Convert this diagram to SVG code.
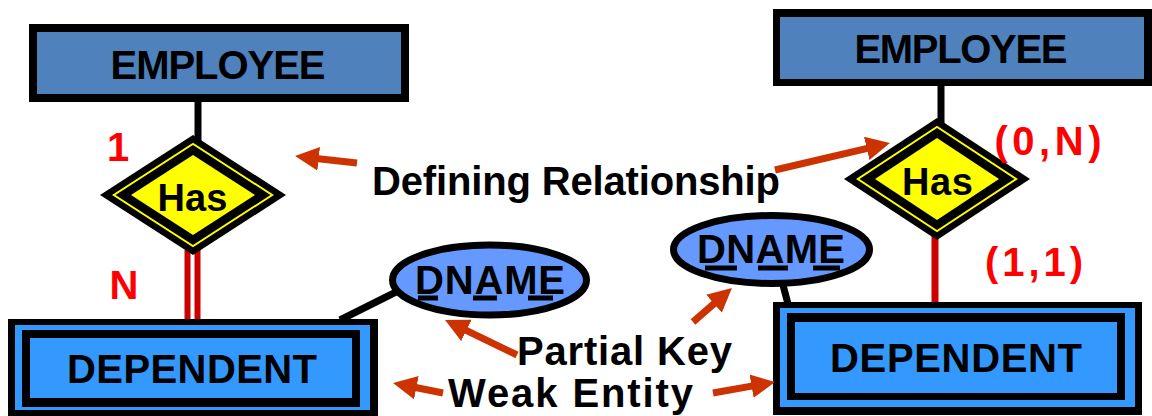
<svg xmlns="http://www.w3.org/2000/svg" width="1152" height="416" viewBox="0 0 1152 416">
<defs>
<style>
text{font-family:"Liberation Sans",Arial,sans-serif;font-weight:bold;text-anchor:middle}
.lbl{font-size:40px;fill:#000}
.has{font-size:38px;fill:#000}
.red{font-size:40px;fill:#ff0000}
.blk{fill:#000}
.emp{fill:#4f81bd}
.dep{fill:#3399ff}
.yel{fill:#ffff00}
.attr{fill:#6699ff;stroke:#000;stroke-width:7}
.conn{stroke:#000;stroke-width:7;fill:none}
.rel{stroke:#cc0000;fill:none}
.arr{stroke:#cc3300;stroke-width:7;fill:none;marker-end:url(#ah)}
.ul{stroke:#000;stroke-width:5}
</style>
<marker id="ah" viewBox="0 0 10 10" refX="3" refY="5" markerWidth="3.4" markerHeight="3.4" orient="auto" markerUnits="strokeWidth">
<path d="M0,0 L10,5 L0,10 z" fill="#cc3300"/>
</marker>
</defs>
<rect width="1152" height="416" fill="#fff"/>
<g id="connectors">
<line class="conn" x1="198" y1="100" x2="198" y2="142"/>
<line class="conn" x1="941" y1="84" x2="941" y2="124"/>
<line class="rel" stroke-width="6" x1="187.5" y1="250" x2="187.5" y2="322"/>
<line class="rel" stroke-width="6" x1="197.5" y1="250" x2="197.5" y2="322"/>
<line class="rel" stroke-width="7" x1="935" y1="236" x2="935" y2="306"/>
<line class="conn" x1="340" y1="320" x2="396" y2="292"/>
<line class="conn" x1="783" y1="285" x2="788" y2="304"/>
</g>
<g id="employee-left">
<rect class="blk" x="29" y="24" width="380" height="78"/>
<rect class="emp" x="37" y="32" width="364" height="62"/>
<text class="lbl" x="218" y="79" textLength="215">EMPLOYEE</text>
</g>
<g id="employee-right">
<rect class="blk" x="773" y="9" width="379" height="77"/>
<rect class="emp" x="780" y="17" width="364" height="62"/>
<text class="lbl" x="961" y="63" textLength="213">EMPLOYEE</text>
</g>
<g id="has-left">
<polygon class="blk" points="193,135 286,195 193,255 100,195"/>
<polygon class="yel" points="193,142.7 274,195 193,247.3 112,195"/>
<polygon class="blk" points="193,145 270.5,195 193,245 115.5,195"/>
<polygon class="yel" points="193,155 255,195 193,235 131,195"/>
<text class="has" x="192.5" y="211" textLength="70">Has</text>
</g>
<g id="has-right">
<polygon class="blk" points="937,118 1030,179 937,240 844,179"/>
<polygon class="yel" points="937,125.7 1018,179 937,232.3 856,179"/>
<polygon class="blk" points="937,128 1014.5,179 937,230 859.5,179"/>
<polygon class="yel" points="937,138 999,179 937,220 875,179"/>
<text class="has" x="937.5" y="195" textLength="71">Has</text>
</g>
<g id="dependent-left">
<rect class="blk" x="8" y="319" width="370" height="101"/>
<rect class="dep" x="15" y="325" width="355" height="85"/>
<rect class="blk" x="22" y="330" width="338" height="77"/>
<rect class="dep" x="30" y="338" width="322" height="60"/>
<text class="lbl" x="192" y="383" textLength="250">DEPENDENT</text>
</g>
<g id="dependent-right">
<rect class="blk" x="773" y="302" width="369" height="113"/>
<rect class="dep" x="780" y="308" width="355" height="99"/>
<rect class="blk" x="787" y="313" width="338" height="87"/>
<rect class="dep" x="795" y="322" width="322" height="71"/>
<text class="lbl" x="956" y="372" textLength="252">DEPENDENT</text>
</g>
<g id="dname-left">
<ellipse class="attr" cx="489.5" cy="280" rx="97" ry="35"/>
<text class="lbl" x="490" y="294" textLength="150">DNAME</text>
<line class="ul" x1="418" y1="298" x2="438" y2="298"/>
<line class="ul" x1="473" y1="298" x2="497" y2="298"/>
<line class="ul" x1="528" y1="298" x2="553" y2="298"/>
</g>
<g id="dname-right">
<ellipse class="attr" cx="771.5" cy="249.5" rx="98" ry="34"/>
<text class="lbl" x="771" y="263" textLength="148">DNAME</text>
<line class="ul" x1="705" y1="268" x2="737" y2="268"/>
<line class="ul" x1="758" y1="268" x2="788" y2="268"/>
<line class="ul" x1="813" y1="268" x2="840" y2="268"/>
</g>
<g id="cardinalities">
<text class="red" x="118" y="161">1</text>
<text class="red" x="124" y="299" textLength="32">N</text>
<text class="red" x="1048" y="155" textLength="107">(0,N)</text>
<text class="red" x="1034" y="276" textLength="98">(1,1)</text>
</g>
<g id="annotations">
<line class="arr" x1="357" y1="163" x2="311.6" y2="157.9"/>
<line class="arr" x1="775" y1="170" x2="873.7" y2="146.8"/>
<line class="arr" x1="517" y1="355" x2="460" y2="327.3"/>
<line class="arr" x1="693" y1="322" x2="719.4" y2="299"/>
<line class="arr" x1="443" y1="393" x2="409.4" y2="386.3"/>
<line class="arr" x1="713" y1="393" x2="758.6" y2="384.9"/>
<text class="lbl" x="576" y="195" textLength="408">Defining Relationship</text>
<text class="lbl" x="624.5" y="365" textLength="215">Partial Key</text>
<text class="lbl" x="570.5" y="407" textLength="245">Weak Entity</text>
</g>
</svg>
